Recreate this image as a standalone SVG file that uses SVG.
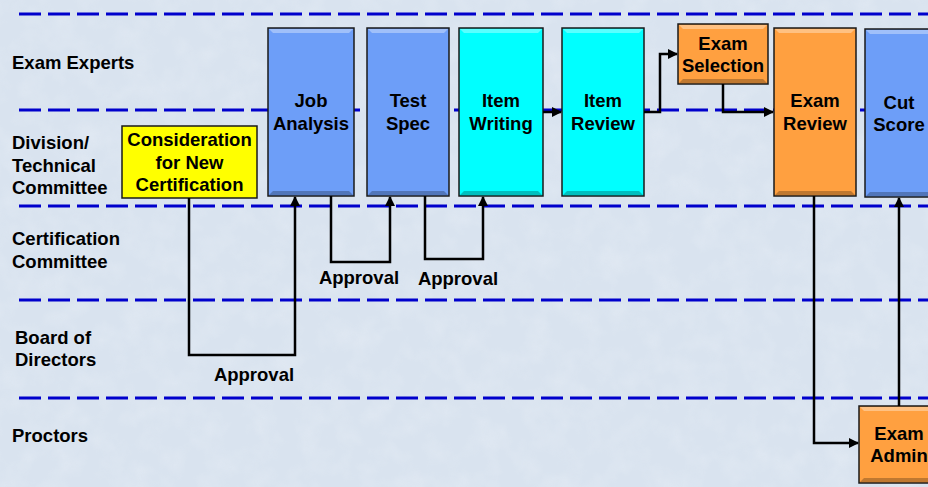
<svg xmlns="http://www.w3.org/2000/svg" width="928" height="487" viewBox="0 0 928 487">
<defs>
<style>
.lane{stroke:#0000cc;stroke-width:3;stroke-dasharray:22 7;fill:none}
.box{stroke:#1a1a1a;stroke-width:1.5}
.hl{fill:#ffffff;opacity:0.35}
.sh{fill:#000000;opacity:0.25}
.t{font-family:"Liberation Sans",Arial,sans-serif;font-weight:bold;font-size:18.5px;fill:#000}
.c{text-anchor:middle}
.con{stroke:#000;stroke-width:2.5;fill:none}
</style>
<marker id="ah" viewBox="0 0 10 10" refX="9" refY="5" markerWidth="4" markerHeight="4" orient="auto" markerUnits="strokeWidth">
<path d="M0,0 L10,5 L0,10 z" fill="#000"/>
</marker>
<filter id="tex" x="0" y="0" width="100%" height="100%">
<feTurbulence type="fractalNoise" baseFrequency="0.04" numOctaves="3" seed="3"/>
<feColorMatrix type="matrix" values="0 0 0 0 0.86  0 0 0 0 0.9  0 0 0 0 0.95  0 0 0 -0.9 0.55"/>
</filter>
</defs>
<rect width="928" height="487" fill="#d9e3ef"/>
<rect width="928" height="487" filter="url(#tex)" opacity="0.6"/>

<g id="lanes">
<line class="lane" x1="19" y1="14" x2="928" y2="14"/>
<line class="lane" x1="19" y1="110" x2="928" y2="110"/>
<line class="lane" x1="19" y1="206" x2="928" y2="206"/>
<line class="lane" x1="19" y1="300" x2="928" y2="300"/>
<line class="lane" x1="19" y1="398" x2="928" y2="398"/>
</g>

<g id="lane-labels" class="t">
<text x="12" y="69">Exam Experts</text>
<text x="12" y="149">Division/</text>
<text x="12" y="172">Technical</text>
<text x="12" y="194">Committee</text>
<text x="12" y="245">Certification</text>
<text x="12" y="268">Committee</text>
<text x="15" y="344">Board of</text>
<text x="15" y="366">Directors</text>
<text x="12" y="442">Proctors</text>
</g>

<g id="consideration">
<rect class="box" x="122" y="126" width="135" height="72" fill="#ffff00"/>
<text class="t c" x="189.5" y="146">Consideration</text>
<text class="t c" x="189.5" y="169">for New</text>
<text class="t c" x="189.5" y="191">Certification</text>
</g>

<g id="job-analysis">
<rect class="box" x="268" y="28" width="86" height="168" fill="#6d9ef8"/>
<path class="hl" d="M269,29 H353 L349,33 H273 Z"/>
<path class="sh" d="M269,195 H353 L349,191 H273 Z"/>
<text class="t c" x="311" y="107">Job</text>
<text class="t c" x="311" y="130">Analysis</text>
</g>

<g id="test-spec">
<rect class="box" x="367" y="28" width="82" height="168" fill="#6d9ef8"/>
<path class="hl" d="M368,29 H448 L444,33 H372 Z"/>
<path class="sh" d="M368,195 H448 L444,191 H372 Z"/>
<text class="t c" x="408" y="107">Test</text>
<text class="t c" x="408" y="130">Spec</text>
</g>

<g id="item-writing">
<rect class="box" x="459" y="28" width="84" height="168" fill="#00ffff"/>
<path class="hl" d="M460,29 H542 L538,33 H464 Z"/>
<path class="sh" d="M460,195 H542 L538,191 H464 Z"/>
<text class="t c" x="501" y="107">Item</text>
<text class="t c" x="501" y="130">Writing</text>
</g>

<g id="item-review">
<rect class="box" x="562" y="28" width="82" height="168" fill="#00ffff"/>
<path class="hl" d="M563,29 H643 L639,33 H567 Z"/>
<path class="sh" d="M563,195 H643 L639,191 H567 Z"/>
<text class="t c" x="603" y="107">Item</text>
<text class="t c" x="603" y="130">Review</text>
</g>

<g id="exam-selection">
<rect class="box" x="678" y="24" width="90" height="60" fill="#ffa040"/>
<path class="hl" d="M679,25 H767 L763,29 H683 Z"/>
<path class="sh" d="M679,83 H767 L763,79 H683 Z"/>
<text class="t c" x="723" y="50">Exam</text>
<text class="t c" x="723" y="72">Selection</text>
</g>

<g id="exam-review">
<rect class="box" x="774" y="28" width="82" height="168" fill="#ffa040"/>
<path class="hl" d="M775,29 H855 L851,33 H779 Z"/>
<path class="sh" d="M775,195 H855 L851,191 H779 Z"/>
<text class="t c" x="815" y="107">Exam</text>
<text class="t c" x="815" y="130">Review</text>
</g>

<g id="cut-score">
<rect class="box" x="865" y="29" width="72" height="168" fill="#6d9ef8"/>
<path class="hl" d="M866,30 H936 L932,34 H870 Z"/>
<path class="sh" d="M866,196 H936 L932,192 H870 Z"/>
<text class="t c" x="899" y="109">Cut</text>
<text class="t c" x="899" y="131">Score</text>
</g>

<g id="exam-admin">
<rect class="box" x="859" y="406" width="80" height="77" fill="#ffa040"/>
<path class="hl" d="M860,407 H938 L934,411 H864 Z"/>
<path class="sh" d="M860,482 H938 L934,478 H864 Z"/>
<text class="t c" x="899" y="440">Exam</text>
<text class="t c" x="899" y="462">Admin</text>
</g>

<g id="connectors">
<polyline class="con" points="189,198 189,355 295,355 295,197" marker-end="url(#ah)"/>
<polyline class="con" points="331,196 331,262 390,262 390,197" marker-end="url(#ah)"/>
<polyline class="con" points="425,196 425,259 483,259 483,197" marker-end="url(#ah)"/>
<polyline class="con" points="543,112 561,112" marker-end="url(#ah)"/>
<polyline class="con" points="644,112 660,112 660,54 677,54" marker-end="url(#ah)"/>
<polyline class="con" points="723,84 723,112 773,112" marker-end="url(#ah)"/>
<polyline class="con" points="814,196 814,443 858,443" marker-end="url(#ah)"/>
<polyline class="con" points="899,406 899,198" marker-end="url(#ah)"/>
</g>

<g id="conn-labels" class="t">
<text class="c" x="254" y="381">Approval</text>
<text class="c" x="359" y="284">Approval</text>
<text class="c" x="458" y="285">Approval</text>
</g>
</svg>
